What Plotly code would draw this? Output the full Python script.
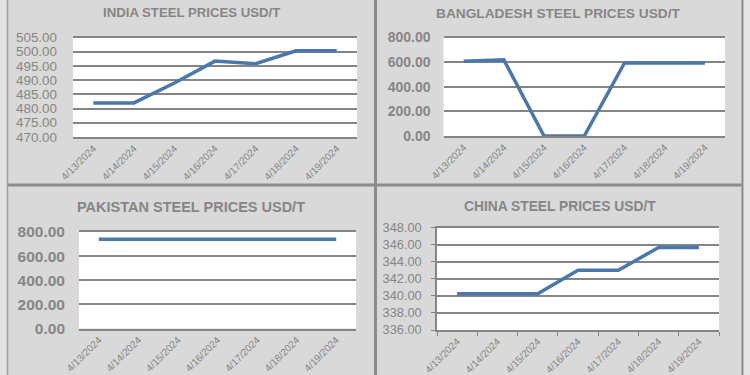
import plotly.graph_objects as go

dates = ["4/13/2024", "4/14/2024", "4/15/2024", "4/16/2024", "4/17/2024", "4/18/2024", "4/19/2024"]
india = [482.0, 482.0, 489.0, 496.7, 495.8, 500.3, 500.3]
bangladesh = [607.0, 618.0, 0.0, 0.0, 593.0, 593.0, 593.0]
pakistan = [740.0, 740.0, 740.0, 740.0, 740.0, 740.0, 740.0]
china = [340.25, 340.25, 340.25, 343.0, 343.0, 345.65, 345.65]

titles = ["INDIA STEEL PRICES USD/T", "BANGLADESH STEEL PRICES USD/T",
          "PAKISTAN STEEL PRICES USD/T", "CHINA STEEL PRICES USD/T"]
y_ranges = [[470, 505], [0, 800], [0, 800], [336, 348]]
y_dticks = [5, 200, 200, 2]
series = [india, bangladesh, pakistan, china]

W, H = 750, 375
# plot areas in pixels: (x0, x1, ytop, ybottom)
areas = [(73, 357, 37.5, 137), (443.5, 725, 37.5, 136),
         (79, 356, 232, 328.5), (437, 719, 227.5, 330)]
title_pos = [(191.5, 13), (558, 14), (191, 207), (560, 206)]
title_size = [13.2, 13.7, 14.5, 13.8]
ytick_size = [13.4, 14, 15.5, 12.8]
ytick_weight = ["normal", "bold", "bold", "normal"]
ytick_standoff = [15, 12, 13, 7]

LINE = "#4a78ae"
GRID = "#858585"
TXT = "#868686"
FONT = "Liberation Sans, Arial, sans-serif"

fig = go.Figure()
layout = {}
for i, (vals, (x0, x1, yt, yb)) in enumerate(zip(series, areas)):
    n = "" if i == 0 else str(i + 1)
    fig.add_trace(go.Scatter(x=dates, y=vals, mode="lines", xaxis="x" + n, yaxis="y" + n,
                             line=dict(color=LINE, width=3.5), showlegend=False,
                             hoverinfo="x+y"))
    is_china = i == 3
    layout["xaxis" + n] = dict(
        domain=[x0 / W, x1 / W], anchor="y" + n, type="category", range=[-0.5, 6.5],
        showgrid=False, showline=True, mirror=True, linecolor=GRID, linewidth=1.5,
        tickangle=-45, tickfont=dict(size=10, color=TXT, family=FONT),
        ticks="outside" if is_china else "", tickson="boundaries" if is_china else "labels",
        ticklen=4, tickcolor=GRID, zeroline=False, fixedrange=True, automargin=False)
    layout["yaxis" + n] = dict(
        domain=[1 - yb / H, 1 - yt / H], anchor="x" + n, range=y_ranges[i], dtick=y_dticks[i],
        tick0=y_ranges[i][0], tickformat=".2f", showgrid=True, gridcolor=GRID, gridwidth=1.5,
        zeroline=True, zerolinecolor=GRID, zerolinewidth=1.5,
        showline=is_china, linecolor=GRID, linewidth=1.5,
        ticks="outside" if is_china else "", ticklen=4, tickcolor=GRID,
        ticklabelstandoff=ytick_standoff[i],
        tickfont=dict(size=ytick_size[i], color=TXT, family=FONT, weight=ytick_weight[i]),
        fixedrange=True, automargin=False)

annotations = []
for t, (cx, cy), fs in zip(titles, title_pos, title_size):
    annotations.append(dict(text="<b>" + t + "</b>", x=cx / W, y=1 - cy / H, xref="paper", yref="paper",
                            showarrow=False, xanchor="center", yanchor="middle",
                            font=dict(size=fs, color=TXT, family=FONT)))

BORDER = "#8c8c8c"
shapes = [
    dict(type="rect", xref="paper", yref="paper", x0=0, x1=7 / W, y0=0, y1=1,
         fillcolor="#e2e2e2", line=dict(width=0), layer="below"),
    dict(type="rect", xref="paper", yref="paper", x0=743 / W, x1=1, y0=0, y1=1,
         fillcolor="#e6e6e6", line=dict(width=0), layer="below"),
    dict(type="line", xref="paper", yref="paper", x0=7.5 / W, x1=7.5 / W, y0=0, y1=1,
         line=dict(color="#a0a0a0", width=1.5)),
    dict(type="line", xref="paper", yref="paper", x0=742.5 / W, x1=742.5 / W, y0=0, y1=1,
         line=dict(color=BORDER, width=2)),
    dict(type="line", xref="paper", yref="paper", x0=375.5 / W, x1=375.5 / W, y0=0, y1=1,
         line=dict(color=BORDER, width=3)),
    dict(type="line", xref="paper", yref="paper", x0=7.5 / W, x1=742.5 / W, y0=1 - 185 / H, y1=1 - 185 / H,
         line=dict(color=BORDER, width=3)),
]

fig.update_layout(
    width=W, height=H, margin=dict(l=0, r=0, t=0, b=0, autoexpand=False),
    paper_bgcolor="#d9d9d9", plot_bgcolor="#ffffff",
    annotations=annotations, shapes=shapes,
    font=dict(family=FONT, color=TXT), **layout)

fig.write_html("out.html", config={"displayModeBar": False},
               post_script="document.body.style.margin='0';document.body.style.overflow='hidden';")
